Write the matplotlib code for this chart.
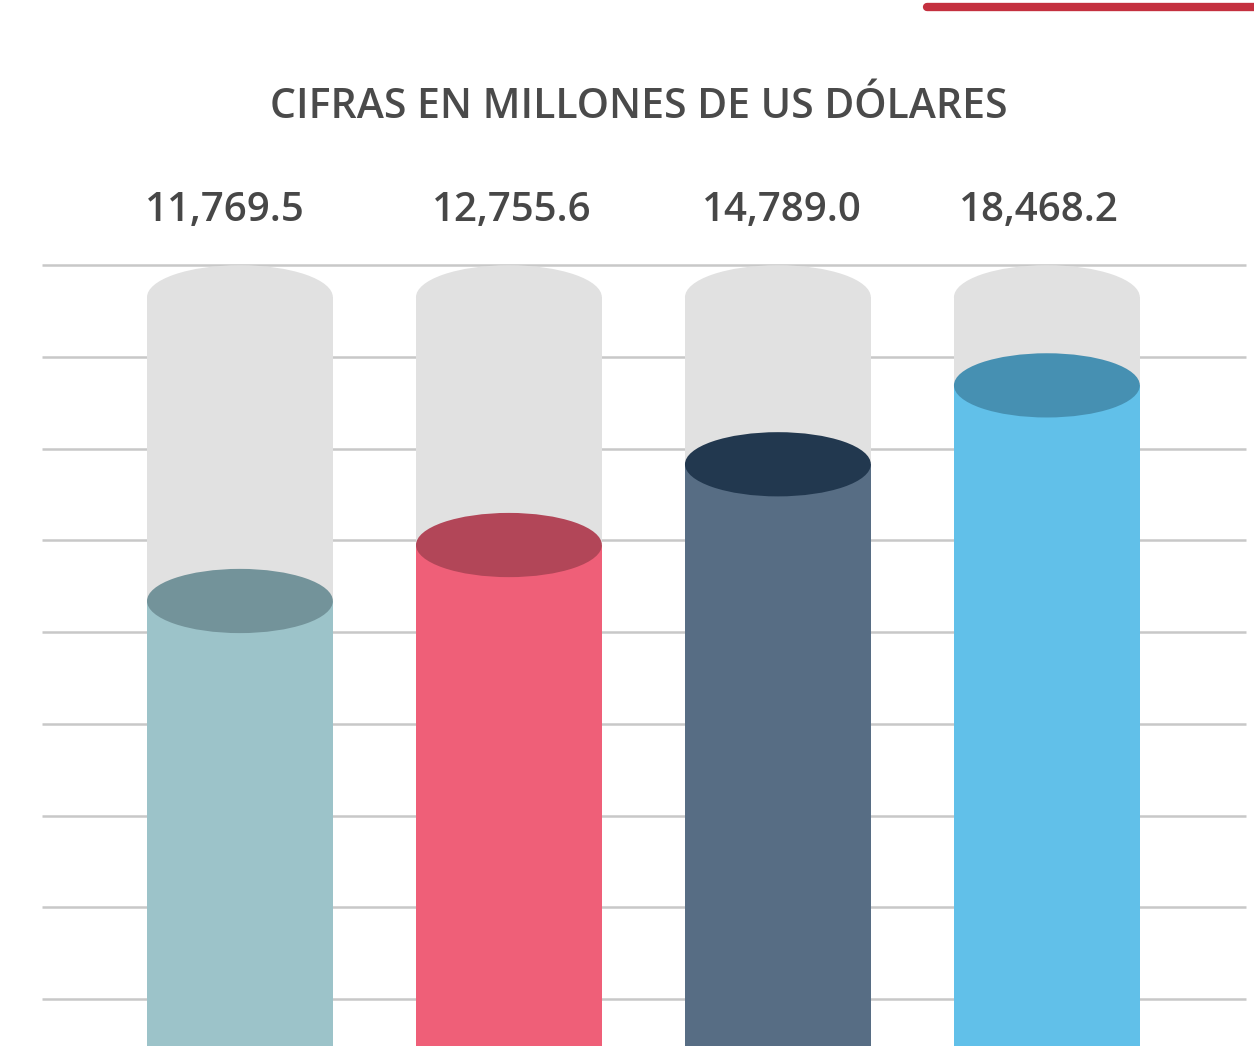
import matplotlib.pyplot as plt
from matplotlib.patches import Rectangle, Ellipse

plt.rcParams['font.family'] = ['Open Sans', 'DejaVu Sans']

# values shown above each cylinder
labels = ["11,769.5", "12,755.6", "14,789.0", "18,468.2"]
values = [11769.5, 12755.6, 14789.0, 18468.2]
# fill level of each cylinder, in grid-line units
fill_level = [4.34, 4.95, 5.83, 6.69]
tank_level = 7.65
grid_levels = [0, 1, 2, 3, 4, 5, 6, 7, 8]

body_colors = ["#9cc3c9", "#ef5f78", "#576d84", "#61c0e9"]
top_colors = ["#73939a", "#b24658", "#22384f", "#4690b2"]
tank_color = "#e1e1e1"

title = "CIFRAS EN MILLONES DE US DÓLARES"

fig = plt.figure(figsize=(12.54, 10.46), dpi=100)
ax = fig.add_axes([0, 0, 1, 1])
ax.set_xlim(-0.892, 3.770)
ax.set_ylim(-0.51, 10.89)
ax.axis("off")

# grid lines
for g in grid_levels:
    ax.plot([-0.736, 3.740], [g, g], color="#c8c8c8", lw=1.8, zorder=0,
            solid_capstyle="butt")

w = 0.691
eh = 0.70
bottom = -0.6
# labels are not exactly centred over the cylinders
label_shift = [-0.056, 0.011, 0.015, -0.030]
for i, v in enumerate(values):
    # grey tank
    ax.add_patch(Rectangle((i - w / 2, bottom), w, tank_level - bottom,
                           color=tank_color, lw=0, zorder=1))
    ax.add_patch(Ellipse((i, tank_level), w, eh, color=tank_color, lw=0, zorder=1))
    # filled part
    lvl = fill_level[i]
    ax.add_patch(Rectangle((i - w / 2, bottom), w, lvl - bottom,
                           color=body_colors[i], lw=0, zorder=2))
    ax.add_patch(Ellipse((i, lvl), w, eh, color=top_colors[i], lw=0, zorder=3))
    # value label
    ax.text(i + label_shift[i], 8.59, labels[i], ha="center", va="center",
            fontsize=29, color="#474747", fontweight="semibold")

fig.text(0.509, 0.898, title, ha="center", va="center", fontsize=29.5,
         color="#4a4a4a", fontweight="semibold")

# red accent line top right
fig.add_artist(plt.Line2D([0.739, 1.0], [0.9935, 0.9935], color="#c4303f",
                          lw=6, solid_capstyle="round"))

fig.savefig("out.png", dpi=100)
